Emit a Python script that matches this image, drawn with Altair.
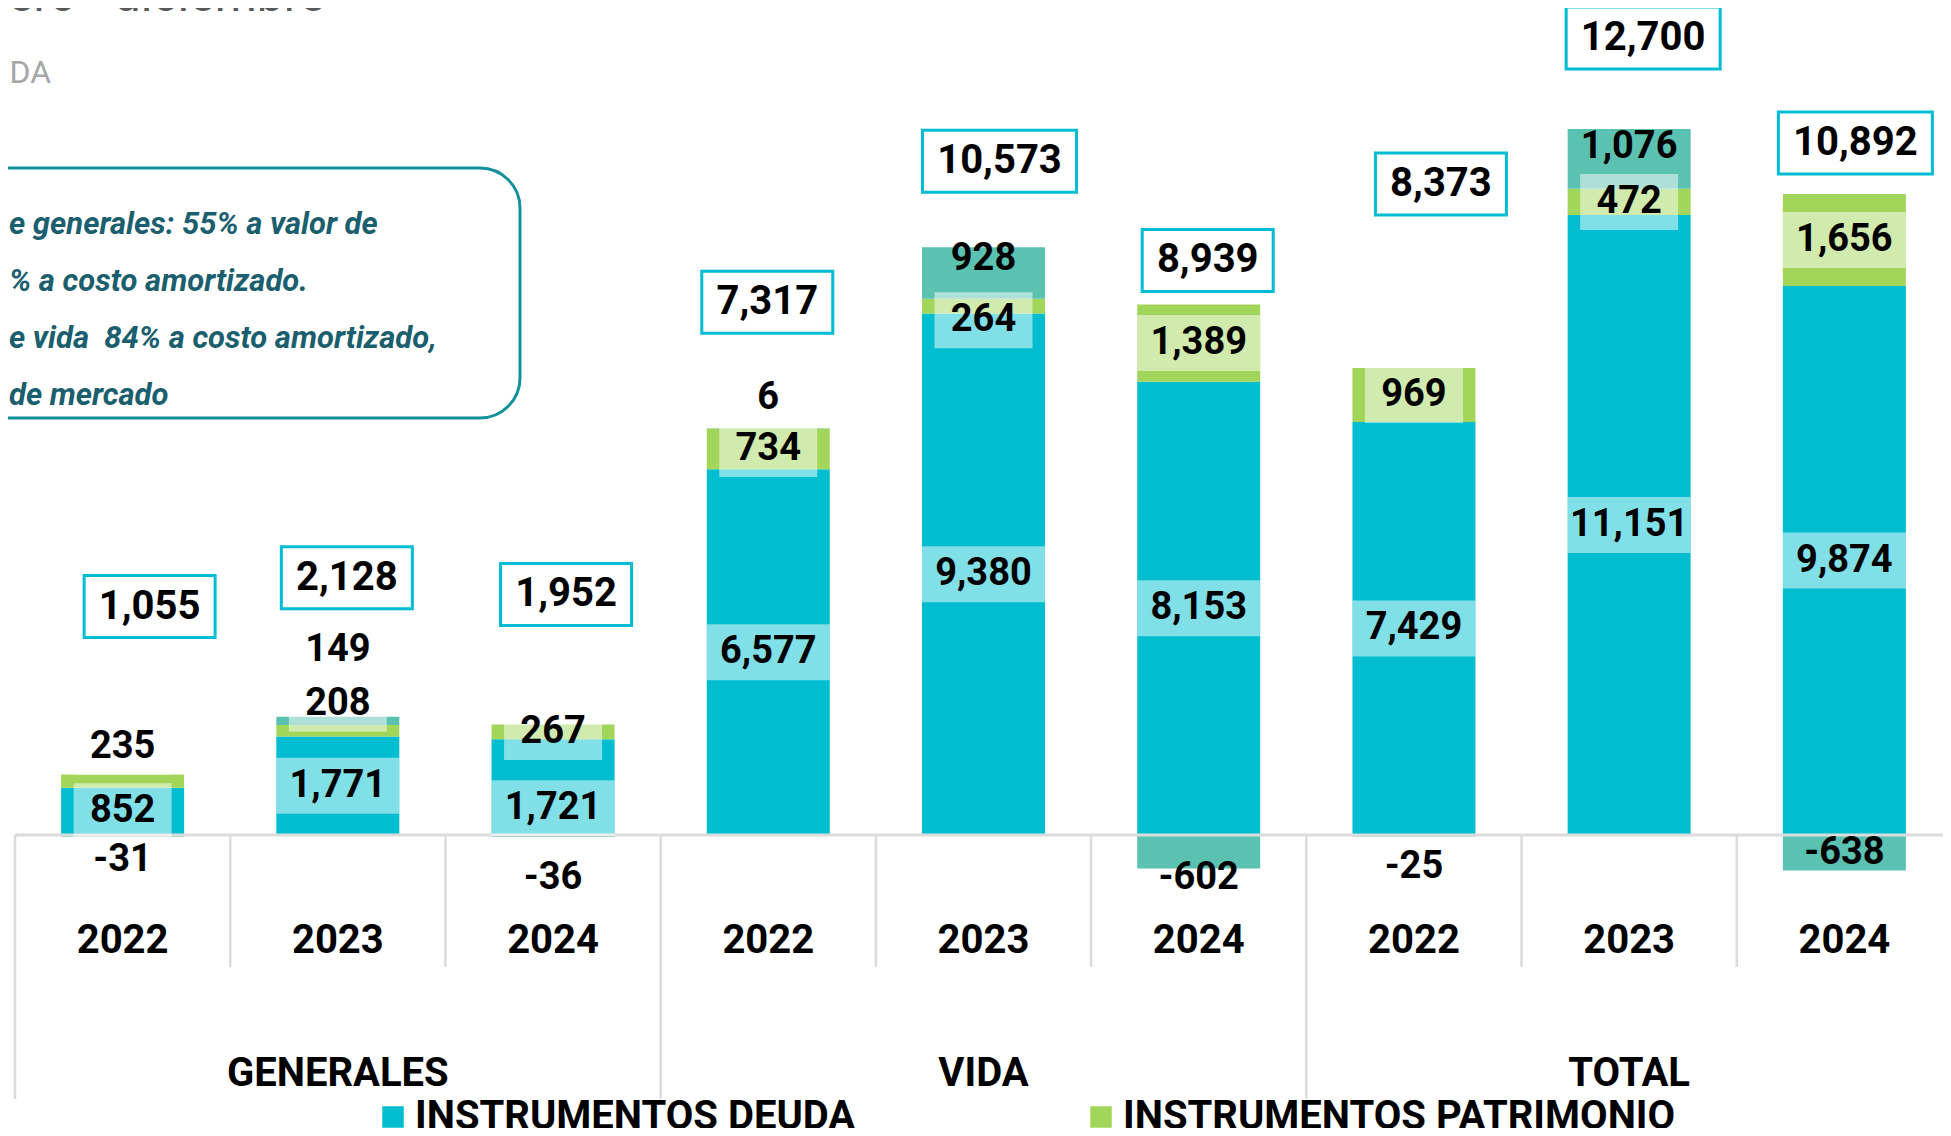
import altair as alt
import pandas as pd

# ---------------- data ----------------
grupos = ["GENERALES", "VIDA", "TOTAL"]
anios = ["2022", "2023", "2024"]
deuda = [852, 1771, 1721, 6577, 9380, 8153, 7429, 11151, 9874]
patrimonio = [235, 208, 267, 734, 264, 1389, 969, 472, 1656]
otros = [-31, 149, -36, 6, 928, -602, -25, 1076, -638]
totales = [1055, 2128, 1952, 7317, 10573, 8939, 8373, 12700, 10892]
series = ["INSTRUMENTOS DEUDA", "INSTRUMENTOS PATRIMONIO", "OTROS"]

titulo = "Enero - diciembre"
subtitulo = "DA"
notas = [
    "e generales: 55% a valor de",
    "% a costo amortizado.",
    "e vida\u00a0 84% a costo amortizado,",
    "de mercado",
]

# ---------------- style ----------------
colores = ["#00BECF", "#A1D65B", "#5BC1B1"]
CIAN_BORDE = "#00BCD4"
GRIS = "#DCDCDC"
FONT = "Roboto"

# manual label nudges (pixels, + = down) as placed in the original
nudge_seg = {
    (1, 0): -34, (1, 1): -27, (0, 2): 21, (1, 4): 14,
    (2, 0): 24, (2, 1): -71, (2, 2): 42, (2, 3): -30, (2, 4): -14,
    (2, 5): 26, (2, 6): 31, (2, 7): -12, (2, 8): 0,
}
tot_dy = [-168, -139, -130, -126, -86, -44, -184, -91, -51]
tot_dx = [27, 9, 13, -1, 16, 9, 27, 14, 11]

# ---------------- layout ----------------
W, H = 1928, 1120
STEP = 215.22
XMIN = -0.5
XMAX = XMIN + W / STEP
YMIN, YMAX = -5270, 14875
K = H / (YMAX - YMIN)
BAR_W = 123

n = len(deuda)
bars, labs, tots = [], [], []
for i in range(n):
    d, p, o = deuda[i], patrimonio[i], otros[i]
    segs = [(0, d), (d, d + p)]
    segs.append((d + p, d + p + o) if o >= 0 else (0, o))
    vals = [d, p, o]
    for s, (a, b) in enumerate(segs):
        bars.append(dict(x=i, serie=series[s], y0=a, y1=b))
        txt = f"{vals[s]:,}"
        cy = (a + b) / 2 - nudge_seg.get((s, i), 0) / K
        w = 98 if len(txt) <= 3 else BAR_W
        r = 56 / w
        labs.append(dict(x=i, cy=cy, txt=txt, caja=(s < 2),
                         forma=f"M-1,-{r:.4f}L1,-{r:.4f}L1,{r:.4f}L-1,{r:.4f}Z",
                         tam=w * w))
    top = d + p + max(o, 0)
    txt = f"{totales[i]:,}"
    w = 131 if len(txt) <= 5 else 154
    r = 62 / w
    tots.append(dict(x=i + tot_dx[i] / STEP, y=top - tot_dy[i] / K, txt=txt,
                     forma=f"M-1,-{r:.4f}L1,-{r:.4f}L1,{r:.4f}L-1,{r:.4f}Z",
                     tam=w * w))

df_bars = pd.DataFrame(bars)
df_labs = pd.DataFrame(labs)
df_tots = pd.DataFrame(tots)
df_years = pd.DataFrame({"x": list(range(n)), "txt": anios * 3})
df_groups = pd.DataFrame({"x": [1, 4, 7], "txt": grupos})
df_sep = pd.DataFrame({"x": [i - 0.5 for i in range(n + 1)],
                       "largo": [i % 3 == 0 for i in range(n + 1)]})
df_zero = pd.DataFrame({"y0": [0]})
one = pd.DataFrame({"a": [0]})

xs = alt.Scale(domain=[XMIN, XMAX], nice=False, zero=False, padding=0)
ys = alt.Scale(domain=[YMIN, YMAX], nice=False, zero=False, padding=0)
X = lambda f: alt.X(f, scale=xs, axis=None)
Y = lambda f: alt.Y(f, scale=ys, axis=None)

# annotation box + texts
caja_nota = alt.Chart(one).mark_rect(
    cornerRadius=40, fill="white", stroke="#12919B", strokeWidth=3
).encode(x=alt.value(-60), x2=alt.value(505), y=alt.value(160), y2=alt.value(410))

texto_nota = alt.Chart(one).mark_text(
    align="left", baseline="alphabetic", font=FONT, fontSize=31, fontStyle="italic",
    fontWeight="bold", color="#1B5F6F", lineBreak="\n", lineHeight=57
).encode(x=alt.value(-6), y=alt.value(226), text=alt.value("\n".join(notas)))

t_titulo = alt.Chart(one).mark_text(
    align="right", baseline="alphabetic", font=FONT, fontSize=48, color="#595959"
).encode(x=alt.value(310), y=alt.value(3), text=alt.value(titulo))

t_sub = alt.Chart(one).mark_text(
    align="right", baseline="alphabetic", font=FONT, fontSize=32, color="#A6A6A6"
).encode(x=alt.value(36), y=alt.value(75), text=alt.value(subtitulo))

# separators
sep_corto = alt.Chart(df_sep).transform_filter("!datum.largo").mark_rule(
    color=GRIS, strokeWidth=2.5
).encode(x=X("x:Q"), y=alt.value(827), y2=alt.value(959))
sep_largo = alt.Chart(df_sep).transform_filter("datum.largo").mark_rule(
    color=GRIS, strokeWidth=2.5
).encode(x=X("x:Q"), y=alt.value(827), y2=alt.value(1091))

# bars
barras = alt.Chart(df_bars).mark_bar(width=BAR_W).encode(
    x=X("x:Q"),
    y=Y("y0:Q"),
    y2="y1:Q",
    color=alt.Color(
        "serie:N",
        scale=alt.Scale(domain=series, range=colores),
        legend=alt.Legend(
            values=series[:2], title=None, orient="none", direction="horizontal",
            legendX=358, legendY=1089, symbolType="square", symbolSize=462,
            symbolStrokeWidth=0, symbolOpacity=1, labelFont=FONT, labelFontSize=40,
            labelFontWeight="bold", labelColor="black", labelLimit=1000,
            labelOffset=2, columnPadding=225, padding=0,
        ),
    ),
)

cero = alt.Chart(df_zero).mark_rule(color=GRIS, strokeWidth=3).encode(
    y=Y("y0:Q"), x=alt.value(0), x2=alt.value(W)
)

cajas = alt.Chart(df_labs).transform_filter("datum.caja").mark_point(
    filled=True, fill="white", opacity=0.5, strokeWidth=0
).encode(
    x=X("x:Q"), y=Y("cy:Q"),
    shape=alt.Shape("forma:N", scale=None, legend=None),
    size=alt.Size("tam:Q", scale=None, legend=None),
)

textos = alt.Chart(df_labs).mark_text(
    font=FONT, fontSize=38, fontWeight="bold", color="black", baseline="middle"
).encode(x=X("x:Q"), y=Y("cy:Q"), text="txt:N")

cajas_tot = alt.Chart(df_tots).mark_point(
    filled=True, fill="white", stroke=CIAN_BORDE, strokeWidth=3, opacity=1
).encode(
    x=X("x:Q"), y=Y("y:Q"),
    shape=alt.Shape("forma:N", scale=None, legend=None),
    size=alt.Size("tam:Q", scale=None, legend=None),
)
textos_tot = alt.Chart(df_tots).mark_text(
    font=FONT, fontSize=40, fontWeight="bold", color="black", baseline="middle"
).encode(x=X("x:Q"), y=Y("y:Q"), text="txt:N")

anios_t = alt.Chart(df_years).mark_text(
    font=FONT, fontSize=40, fontWeight="bold", color="black", baseline="middle"
).encode(x=X("x:Q"), y=alt.value(933), text="txt:N")

grupos_t = alt.Chart(df_groups).mark_text(
    font=FONT, fontSize=40, fontWeight="bold", color="black", baseline="middle"
).encode(x=X("x:Q"), y=alt.value(1066), text="txt:N")

chart = alt.layer(
    caja_nota, texto_nota, t_titulo, t_sub, sep_corto, sep_largo, barras, cero,
    cajas, textos, cajas_tot, textos_tot, anios_t, grupos_t
).properties(
    width=W, height=H,
    autosize=alt.AutoSizeParams(type="none"),
    padding={"left": 7, "top": 0, "right": 0, "bottom": 0},
).configure_view(stroke=None)

chart.save("out.html", embed_options={"renderer": "svg", "actions": False})
